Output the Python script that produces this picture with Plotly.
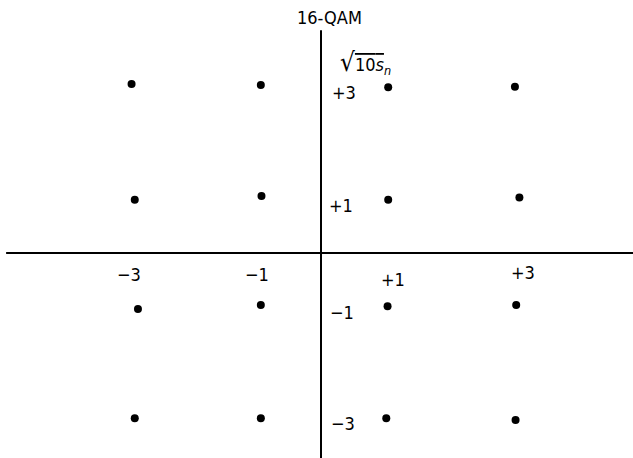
import plotly.graph_objects as go

# 16-QAM constellation points (in-phase, quadrature), as plotted
i_vals = [-2.96, -0.94, 1.05, 3.03,
          -2.91, -0.93, 1.05, 3.10,
          -2.86, -0.94, 1.04, 3.05,
          -2.91, -0.94, 1.02, 3.04]
q_vals = [3.02, 3.00, 2.96, 2.97,
          0.95, 1.02, 0.95, 0.99,
          -1.00, -0.93, -0.95, -0.93,
          -2.95, -2.95, -2.95, -2.98]

# tick labels along the axes
x_tick_text = ["−3", "−1", "+1", "+3"]
x_tick_pos = [(-3.00, -0.375), (-1.00, -0.375), (1.125, -0.47), (3.15, -0.35)]
y_tick_text = ["+3", "+1", "−1", "−3"]
y_tick_pos = [(0.36, 2.87), (0.31, 0.85), (0.33, -1.07), (0.35, -3.05)]

FONT = "DejaVu Sans Condensed, Roboto, sans-serif"
SIZE = 18

fig = go.Figure()
fig.add_trace(go.Scatter(
    x=i_vals, y=q_vals, mode="markers",
    marker=dict(size=8, color="black"),
    showlegend=False, hoverinfo="skip",
))

# crossing axes
fig.add_shape(type="line", x0=-4.92, x1=4.9, y0=0, y1=0,
              line=dict(color="black", width=2))
fig.add_shape(type="line", x0=0, x1=0, y0=3.98, y1=-3.7,
              line=dict(color="black", width=2))

for t, (x, y) in zip(x_tick_text, x_tick_pos):
    fig.add_annotation(x=x, y=y, text=t, showarrow=False,
                       xanchor="center", yanchor="middle",
                       font=dict(family=FONT, size=SIZE, color="black"))
for t, (x, y) in zip(y_tick_text, y_tick_pos):
    fig.add_annotation(x=x, y=y, text=t, showarrow=False,
                       xanchor="center", yanchor="middle",
                       font=dict(family=FONT, size=SIZE, color="black"))

fig.add_annotation(x=0.13, y=4.2, text="16-QAM", showarrow=False,
                   xanchor="center", yanchor="middle",
                   font=dict(family=FONT, size=SIZE, color="black"))
fig.add_annotation(
    x=0.7, y=3.4,
    text="<span style='font-size:26px'>√</span>"
         "<span style='text-decoration:overline'>10<i>s</i></span>"
         "<sub><i>n</i></sub>",
    showarrow=False, xanchor="center", yanchor="middle",
    font=dict(family=FONT, size=SIZE, color="black"))

fig.update_xaxes(range=[-5.0156, 4.875], visible=False)
fig.update_yaxes(range=[-3.6607, 4.518], visible=False)
fig.update_layout(
    width=633, height=458,
    margin=dict(l=0, r=0, t=0, b=0),
    plot_bgcolor="white", paper_bgcolor="white",
)

fig.write_html("out.html")
